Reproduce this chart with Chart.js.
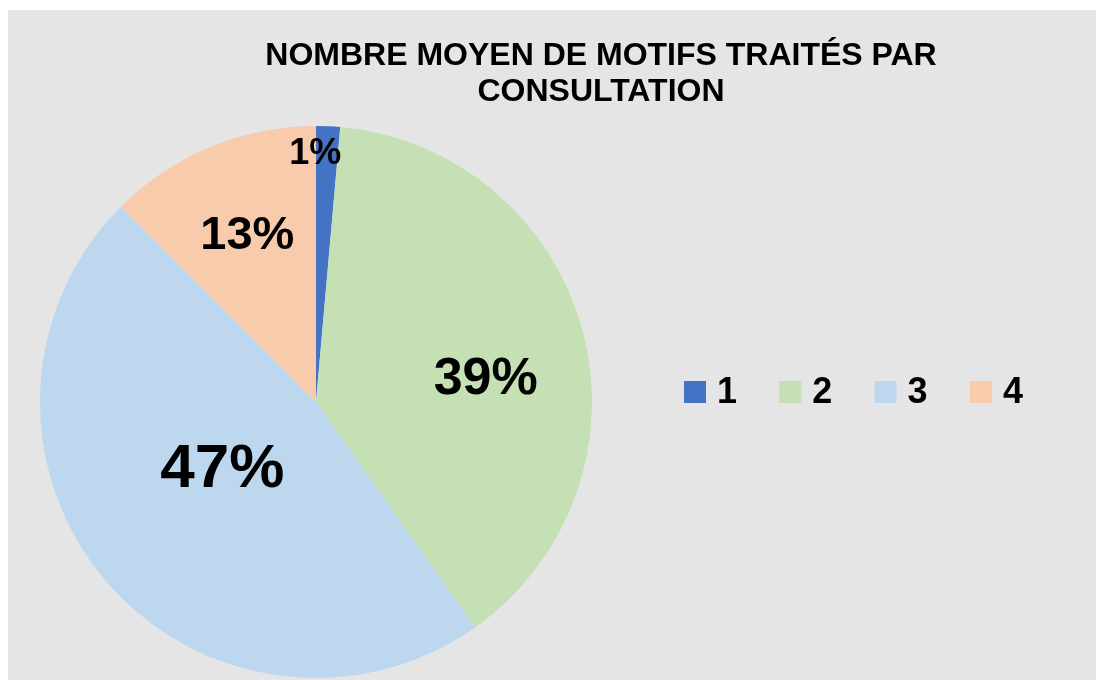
<!DOCTYPE html>
<html>
<head>
<meta charset="utf-8">
<script src="https://cdn.jsdelivr.net/npm/chart.js@4"></script>
<style>
  body { margin: 0; background: #ffffff; }
  #wrap { position: absolute; left: 8px; top: 10px; width: 1088px; height: 670px; background: #e5e5e5; }
</style>
</head>
<body>
<div id="wrap"><canvas id="chart"></canvas></div>
<script>
// chart data
const categories = ['1', '2', '3', '4'];
const shares = [1.4, 38.8, 47.3, 12.5];
const shareLabels = ['1%', '39%', '47%', '13%'];
const titleLines = ['NOMBRE MOYEN DE MOTIFS TRAITÉS PAR', 'CONSULTATION'];
const colors = ['#4472c4', '#c5e0b4', '#bdd7ee', '#f8cbad'];

const FONT = '"Liberation Sans", Arial, sans-serif';

// percent labels inside the slices, placed like the Excel "best fit"
const sliceLabels = {
  id: 'sliceLabels',
  afterDatasetsDraw(chart, args, opts) {
    const ctx = chart.ctx;
    const arcs = chart.getDatasetMeta(0).data;
    ctx.save();
    ctx.fillStyle = '#000';
    ctx.textAlign = 'center';
    ctx.textBaseline = 'middle';
    arcs.forEach((arc, i) => {
      const p = arc.getProps(['x', 'y', 'startAngle', 'endAngle', 'outerRadius'], true);
      const mid = (p.startAngle + p.endAngle) / 2 + opts.shift[i] * Math.PI / 180;
      const r = p.outerRadius * opts.dist[i];
      ctx.font = 'bold ' + opts.sizes[i] + 'px ' + FONT;
      ctx.fillText(shareLabels[i], p.x + Math.cos(mid) * r, p.y + Math.sin(mid) * r);
    });
    ctx.restore();
  }
};

// title and one-row legend on the right
const decor = {
  id: 'decor',
  afterDraw(chart) {
    const ctx = chart.ctx;
    ctx.save();
    ctx.fillStyle = '#000';
    ctx.textAlign = 'center';
    ctx.textBaseline = 'middle';
    ctx.font = 'bold 32px ' + FONT;
    titleLines.forEach((t, i) => ctx.fillText(t, 593, 46 + i * 36));

    ctx.textAlign = 'left';
    ctx.font = 'bold 36px ' + FONT;
    categories.forEach((c, i) => {
      const x = 676 + i * 95.3;
      ctx.fillStyle = colors[i];
      ctx.fillRect(x, 371, 22, 22);
      ctx.fillStyle = '#000';
      ctx.fillText(c, x + 33, 383);
    });
    ctx.restore();
  }
};

new Chart(document.getElementById('chart'), {
  type: 'pie',
  data: {
    labels: categories,
    datasets: [{
      data: shares,
      backgroundColor: colors,
      borderWidth: 0
    }]
  },
  options: {
    responsive: true,
    maintainAspectRatio: false,
    animation: false,
    layout: { padding: { left: 32, top: 116, right: 504, bottom: 2 } },
    plugins: {
      legend: { display: false },
      title: { display: false },
      tooltip: { enabled: false },
      sliceLabels: {
        dist: [0.9, 0.62, 0.42, 0.65],
        shift: [-2.7, 7.7, 4, 0],
        sizes: [36, 52, 62, 47]
      }
    }
  },
  plugins: [sliceLabels, decor]
});
</script>
</body>
</html>
